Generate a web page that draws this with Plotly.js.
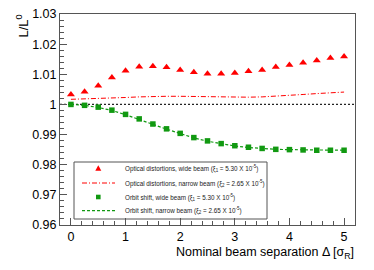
<!DOCTYPE html>
<html><head><meta charset="utf-8">
<script src="https://cdn.plot.ly/plotly-3.0.1.min.js"></script>
<style>html,body{margin:0;padding:0;background:#fff}#c{width:374px;height:270px}</style>
</head><body><div id="c"></div>
<script>
const sep = [0,0.25,0.5,0.75,1,1.25,1.5,1.75,2,2.25,2.5,2.75,3,3.25,3.5,3.75,4,4.25,4.5,4.75,5];
const opticalWide = [1.0033,1.0042,1.0062,1.0089,1.0112,1.0125,1.0127,1.0123,1.0114,1.0107,1.0102,1.0102,1.0104,1.0110,1.0114,1.0124,1.0131,1.0138,1.0146,1.0154,1.0159];
const opticalNarrow = [1.0017,1.0018,1.0019,1.0021,1.0023,1.0025,1.0027,1.0027,1.0027,1.0026,1.0025,1.0024,1.0023,1.0024,1.0025,1.0027,1.0030,1.0033,1.0036,1.0039,1.0041];
const orbitWide = [1.0000,0.9997,0.9991,0.9981,0.9967,0.9952,0.9935,0.9919,0.9904,0.9890,0.9879,0.9870,0.9863,0.9858,0.9854,0.9851,0.9850,0.9849,0.9848,0.9848,0.9848];
const orbitNarrow = [1.0000,0.9997,0.9990,0.9980,0.9966,0.9951,0.9934,0.9918,0.9903,0.9889,0.9878,0.9869,0.9862,0.9857,0.9853,0.9851,0.9850,0.9849,0.9848,0.9848,0.9848];
const refLineX = [-0.2, 5.2];
const refLineY = [1, 1];
const legendLabels = [
  "Optical distortions, wide beam (ξ<sub>1</sub> = 5.30 X 10<sup>-5</sup>)",
  "Optical distortions, narrow beam (ξ<sub>2</sub> = 2.65 X 10<sup>-5</sup>)",
  "Orbit shift, wide beam (ξ<sub>1</sub> = 5.30 X 10<sup>-5</sup>)",
  "Orbit shift, narrow beam (ξ<sub>2</sub> = 2.65 X 10<sup>-5</sup>)"
];
const yTicks = [0.96,0.97,0.98,0.99,1,1.01,1.02,1.03];
const yTickText = ["0.96","0.97","0.98","0.99","1","1.01","1.02","1.03"];

const RED = '#ff0000', GREEN = '#119911', FRAME = '#555555';
const traces = [
  {x: refLineX, y: refLineY, mode:'lines', line:{color:'#222', width:1.2, dash:'2px,2px'}, hoverinfo:'skip'},
  {x: sep, y: opticalNarrow, mode:'lines', line:{color:RED, width:1, dash:'5px,2px,1px,2px'}},
  {x: sep, y: orbitNarrow, mode:'lines', line:{color:GREEN, width:1.2, dash:'3px,2px'}},
  {x: sep, y: opticalWide, mode:'markers', marker:{symbol:'triangle-up', size:7, color:RED}},
  {x: sep, y: orbitWide, mode:'markers', marker:{symbol:'square', size:5.5, color:GREEN}}
];

// legend (paper coords): plot area x 60..355, y 14..225
const px = v => (v-60)/295, py = v => (225-v)/211;
const rows = [168.3, 183, 197, 210.7];
const shapes = [
  {type:'rect', xref:'paper', yref:'paper', x0:px(74), x1:px(267), y0:py(219), y1:py(162), line:{color:FRAME, width:1}, fillcolor:'rgba(255,255,255,0)'},
  {type:'line', xref:'paper', yref:'paper', x0:px(82), x1:px(115), y0:py(rows[1]), y1:py(rows[1]), line:{color:RED, width:1, dash:'5px,2px,1px,2px'}},
  {type:'line', xref:'paper', yref:'paper', x0:px(82), x1:px(115), y0:py(rows[3]), y1:py(rows[3]), line:{color:GREEN, width:1.2, dash:'3px,2px'}},
  {type:'path', xref:'paper', yref:'paper', path:`M ${px(95.3)} ${py(170.8)} L ${px(101.3)} ${py(170.8)} L ${px(98.3)} ${py(165.3)} Z`, fillcolor:RED, line:{width:0}},
  {type:'rect', xref:'paper', yref:'paper', x0:px(96), x1:px(100.6), y0:py(rows[2]+2.3), y1:py(rows[2]-2.3), fillcolor:GREEN, line:{width:0}}
];
const annotations = legendLabels.map((t,i)=>({
  xref:'paper', yref:'paper', x:px(123), y:py(rows[i]), xanchor:'left', yanchor:'middle',
  text:t, showarrow:false, font:{family:'Liberation Sans, Arial, sans-serif', size:6.3, color:'#222'}
}));
annotations.push({xref:'paper', yref:'paper', x:px(22), y:py(13), xanchor:'center', yanchor:'top', textangle:-90,
  text:'L/L<sup>0</sup>', showarrow:false, font:{family:'Liberation Sans, Arial, sans-serif', size:13, color:'#000'}});
annotations.push({xref:'paper', yref:'paper', x:px(356), y:py(253), xanchor:'right', yanchor:'middle',
  text:'Nominal beam separation Δ [σ<sub>R</sub>]', showarrow:false, font:{family:'Liberation Sans, Arial, sans-serif', size:12.5, color:'#000'}});

const layout = {
  width:374, height:270, margin:{l:60, r:19, t:14, b:45},
  paper_bgcolor:'#fff', plot_bgcolor:'#fff', showlegend:false,
  font:{family:'Liberation Sans, Arial, sans-serif', size:12.5, color:'#000'},
  xaxis:{range:[-0.2,5.2], tickvals:[0,1,2,3,4,5], ticks:'inside', ticklen:7, tickcolor:FRAME, showgrid:false, zeroline:false,
    showline:true, linecolor:FRAME, linewidth:1, mirror:true, tickfont:{size:12.5},
    minor:{dtick:0.2, tick0:0, ticks:'inside', ticklen:4, tickcolor:FRAME, showgrid:false}},
  yaxis:{range:[0.96,1.03], tickvals:yTicks, ticktext:yTickText, ticks:'inside', ticklen:7, tickcolor:FRAME, showgrid:false, zeroline:false,
    showline:true, linecolor:FRAME, linewidth:1, mirror:true, tickfont:{size:12.5},
    minor:{dtick:0.002, tick0:0.96, ticks:'inside', ticklen:4, tickcolor:FRAME, showgrid:false}},
  shapes, annotations
};
Plotly.newPlot('c', traces, layout, {staticPlot:true, displayModeBar:false});
</script></body></html>
